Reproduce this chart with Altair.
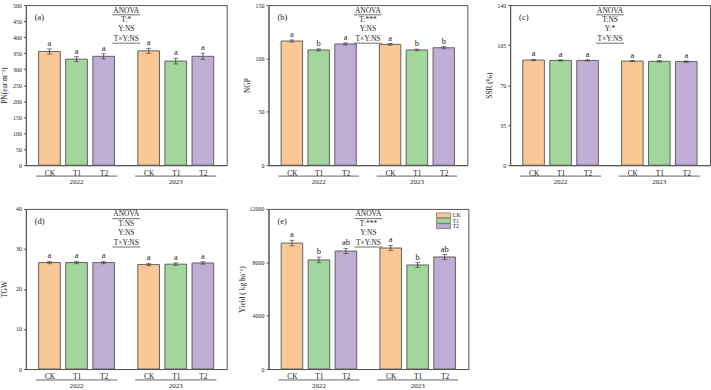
import altair as alt
import pandas as pd

FONT = "Liberation Serif"
years = ["2022", "2023"]
treatments = ["CK", "T1", "T2"]
colors = ["#F9C896", "#A3D69C", "#BFADD6"]

# (a) PN
pn_mean = [355, 331, 340, 357, 325, 340]
pn_err = [8, 8, 8, 8, 9, 10]
pn_let = ["a", "a", "a", "a", "a", "a"]
# (b) NGP
ngp_mean = [116.3, 108.0, 113.6, 113.2, 108.0, 110.0]
ngp_err = [1.0, 1.0, 1.0, 0.8, 0.8, 1.0]
ngp_let = ["a", "b", "a", "a", "b", "b"]
# (c) SSR
ssr_mean = [91.9, 91.6, 91.6, 91.0, 90.8, 90.6]
ssr_err = [0.6, 0.5, 0.5, 0.5, 0.6, 0.6]
ssr_let = ["a", "a", "a", "a", "a", "a"]
# (d) TGW
tgw_mean = [26.6, 26.6, 26.6, 26.1, 26.2, 26.5]
tgw_err = [0.3, 0.3, 0.3, 0.3, 0.3, 0.3]
tgw_let = ["a", "a", "a", "a", "a", "a"]
# (e) Yield
yld_mean = [9440, 8175, 8845, 9070, 7800, 8400]
yld_err = [210, 210, 200, 200, 180, 180]
yld_let = ["a", "b", "ab", "a", "b", "ab"]

GROUP_STEP = 3.66
BAR_HALF = 0.4
XDOM = [-0.87, 6.54]
EDGE = "#555555"
INK = "#333333"


def panel(label, title, means, errs, letters, ymax, yticks, anova, w, h, legend=False):
    rows = []
    for yi, yr in enumerate(years):
        for ti, tr in enumerate(treatments):
            k = yi * 3 + ti
            pos = yi * GROUP_STEP + ti
            rows.append(dict(year=yr, trt=tr, mean=means[k], err=errs[k], letter=letters[k],
                             pos=pos, xa=pos - BAR_HALF, xb=pos + BAR_HALF,
                             lo=means[k] - errs[k], hi=means[k] + errs[k]))
    df = pd.DataFrame(rows)
    xscale = alt.Scale(domain=XDOM, nice=False, zero=False)
    yscale = alt.Scale(domain=[0, ymax], nice=False)
    tick_pos = [yi * GROUP_STEP + ti for yi in range(len(years)) for ti in range(len(treatments))]
    arr = "[" + ",".join("'%s'" % t for t in treatments) + "]"
    lexpr = f"datum.value < 3 ? {arr}[round(datum.value)] : {arr}[round(datum.value - {GROUP_STEP})]"

    xaxis = alt.Axis(values=tick_pos, labelExpr=lexpr, title=None, ticks=False,
                     labelFontSize=7.5, labelPadding=4, labelFlush=False, labelOverlap=False)
    yaxis = alt.Axis(values=yticks, title=title, labelFontSize=6, titleFontSize=7.5, format="d",
                     tickSize=2.5, labelPadding=2, titlePadding=3, minExtent=14,
                     labelOverlap=False, labelFlush=False)

    def X(f):
        return alt.X(f, scale=xscale, axis=xaxis)

    def Y(f):
        return alt.Y(f, scale=yscale, axis=yaxis)

    bars = alt.Chart(df).mark_bar(stroke=EDGE, strokeWidth=0.9).encode(
        x=X("xa:Q"), x2="xb:Q", y=Y("mean:Q"), y2=alt.datum(0),
        color=alt.Color("trt:N", scale=alt.Scale(domain=treatments, range=colors), legend=None),
    )
    ebar = alt.Chart(df).mark_rule(color=INK, strokeWidth=0.8).encode(
        x=X("pos:Q"), y=Y("lo:Q"), y2="hi:Q")
    cap_lo = alt.Chart(df).mark_tick(orient="horizontal", size=5, thickness=0.8, color=INK).encode(
        x=X("pos:Q"), y=Y("lo:Q"))
    cap_hi = alt.Chart(df).mark_tick(orient="horizontal", size=5, thickness=0.8, color=INK).encode(
        x=X("pos:Q"), y=Y("hi:Q"))
    lets = alt.Chart(df).mark_text(baseline="bottom", dy=-1, fontSize=8.5, font=FONT, color="#222").encode(
        x=X("pos:Q"), y=Y("hi:Q"), text="letter:N")

    # year grouping lines and labels
    ydf = pd.DataFrame(dict(
        year=years,
        ya=[yi * GROUP_STEP - 0.5 for yi in range(len(years))],
        yb=[yi * GROUP_STEP + len(treatments) - 0.5 for yi in range(len(years))],
        ym=[yi * GROUP_STEP + 1 for yi in range(len(years))],
    ))
    yrule = alt.Chart(ydf).mark_rule(color=EDGE, strokeWidth=0.9).encode(
        x=X("ya:Q"), x2="yb:Q", y=alt.value(h + 11))
    ytext = alt.Chart(ydf).mark_text(fontSize=7, font=FONT, baseline="middle", color="#222").encode(
        x=X("ym:Q"), y=alt.value(h + 16.8), text="year:N")

    layers = [bars, ebar, cap_lo, cap_hi, lets, yrule, ytext]

    one = pd.DataFrame({"t": [label]})
    layers.append(alt.Chart(one).mark_text(fontSize=8.5, font=FONT, align="left", baseline="middle",
                                           color="#222").encode(
        x=alt.value(9), y=alt.value(12.5), text="t:N"))
    ys = [5.5, 15, 24.5, 34]
    for txt, yy in zip(anova, ys):
        layers.append(alt.Chart(pd.DataFrame({"t": [txt]})).mark_text(
            fontSize=7.5, font=FONT, baseline="middle", color="#222").encode(
            x=alt.value(w / 2), y=alt.value(yy), text="t:N"))
    for yy in [9.8, 38.3]:
        layers.append(alt.Chart(pd.DataFrame({"t": [0]})).mark_rule(color=INK, strokeWidth=0.7).encode(
            x=alt.value(w / 2 - 14), x2=alt.value(w / 2 + 14), y=alt.value(yy)))

    if legend:
        for i, (tr, c) in enumerate(zip(treatments, colors)):
            y0 = 4 + 5.4 * i
            layers.append(alt.Chart(pd.DataFrame({"t": [tr]})).mark_rect(
                fill=c, stroke=EDGE, strokeWidth=0.6).encode(
                x=alt.value(w - 32), x2=alt.value(w - 18), y=alt.value(y0), y2=alt.value(y0 + 5)))
            layers.append(alt.Chart(pd.DataFrame({"t": [tr]})).mark_text(
                fontSize=6, font=FONT, align="left", baseline="middle", color="#222").encode(
                x=alt.value(w - 16), y=alt.value(y0 + 2.5), text="t:N"))

    return alt.layer(*layers).properties(width=w, height=h)


pa = panel("(a)", "PN(ear m⁻²)", pn_mean, pn_err, pn_let, 500, list(range(0, 501, 50)),
           ["ANOVA", "T:*", "Y:NS", "T×Y:NS"], 202, 161)
pb = panel("(b)", "NGP", ngp_mean, ngp_err, ngp_let, 150, [0, 50, 100, 150],
           ["ANOVA", "T:***", "Y:NS", "T×Y:NS"], 200, 161)
pc = panel("(c)", "SSR (%)", ssr_mean, ssr_err, ssr_let, 140, [0, 35, 70, 105, 140],
           ["ANOVA", "T:NS", "Y:*", "T×Y:NS"], 201, 161)
pd_ = panel("(d)", "TGW", tgw_mean, tgw_err, tgw_let, 40, [0, 10, 20, 30, 40],
            ["ANOVA", "T:NS", "Y:NS", "T×Y:NS"], 202, 161)
pe = panel("(e)", "Yield ( kg ha⁻¹)", yld_mean, yld_err, yld_let, 12000, [0, 4000, 8000, 12000],
           ["ANOVA", "T:***", "Y:NS", "T×Y:NS"], 201, 161, legend=True)

chart = alt.concat(pa, pb, pc, pd_, pe, columns=3, spacing={"row": 44, "column": 42},
                   bounds="flush", padding=0).configure_view(
    stroke=EDGE, strokeWidth=1
).configure_axis(
    grid=False, domainColor=EDGE, tickColor=EDGE, labelColor="#222", titleColor="#222",
    labelFont=FONT, titleFont=FONT, titleFontWeight="normal", domainWidth=1
)

chart.save("out.html", embed_options={"renderer": "svg", "actions": False})
